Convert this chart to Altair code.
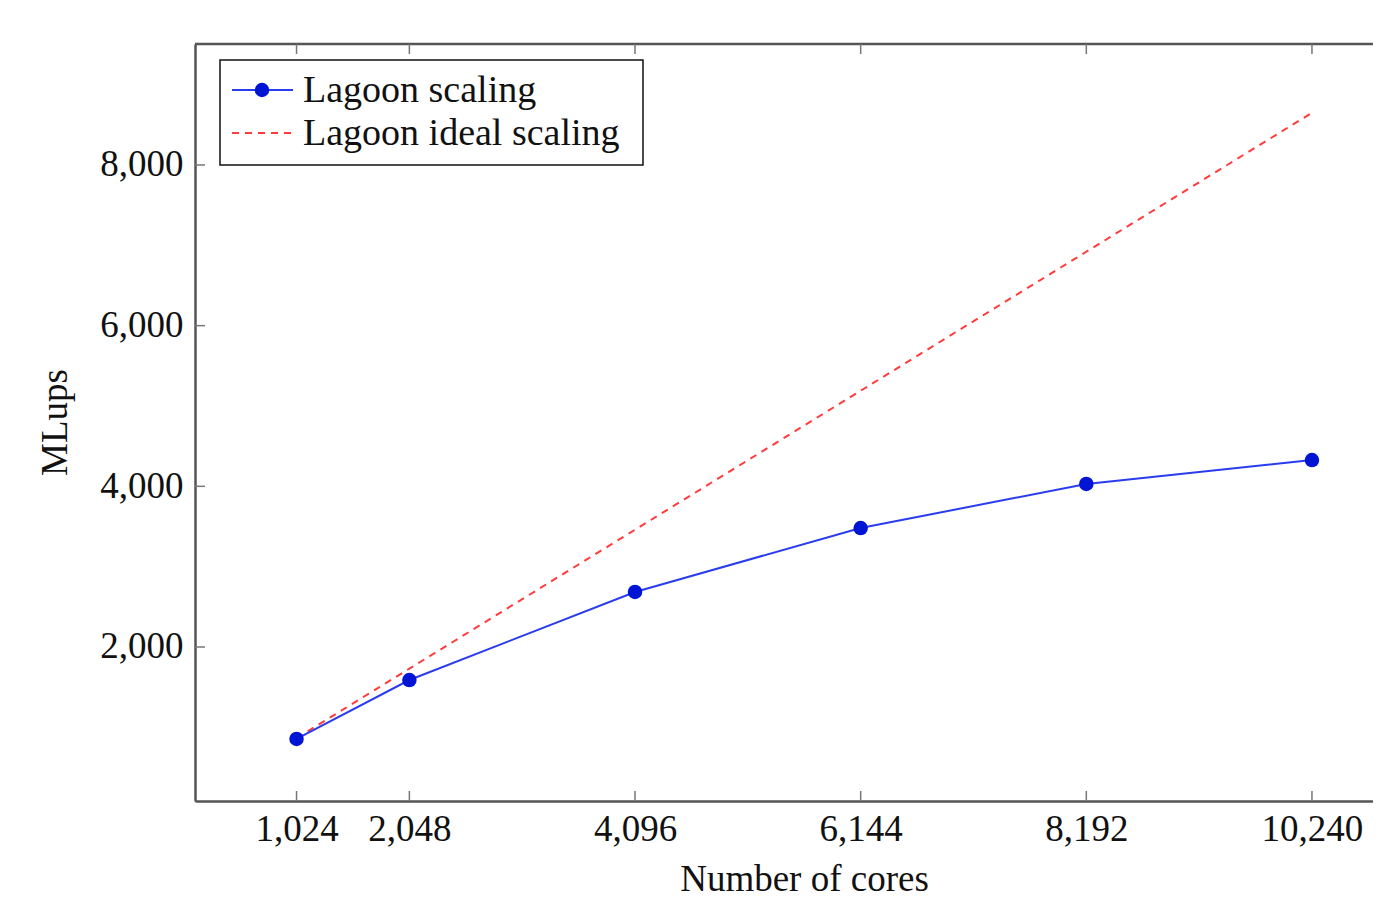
import altair as alt
import pandas as pd

cores = [1024, 2048, 4096, 6144, 8192, 10240]
mlups = [855, 1589, 2685, 3481, 4029, 4327]
ideal = [865, 1730, 3460, 5190, 6920, 8650]
series_names = ["Lagoon scaling", "Lagoon ideal scaling"]
x_ticks = [1024, 2048, 4096, 6144, 8192, 10240]
y_ticks = [2000, 4000, 6000, 8000]

FONT = "Liberation Serif"
FS = 37
W, H = 1178, 757
BLUE_LINE = "#2a3cf0"
BLUE_PT = "#0014d4"
RED = "#ff3b3b"
AX = "#555555"

df = pd.DataFrame({"cores": cores, "mlups": mlups, "ideal": ideal})
xt = pd.DataFrame({"t": x_ticks})
yt = pd.DataFrame({"t": y_ticks})
one = pd.DataFrame({"k": [0]})

xs = alt.Scale(domain=[102.4, 10794], nice=False, zero=False)
ys = alt.Scale(domain=[83, 9506], nice=False, zero=False)

base = alt.Chart(df)

ideal_line = base.mark_line(color=RED, strokeWidth=2, strokeDash=[7, 6]).encode(
    x=alt.X("cores:Q", scale=xs,
            axis=alt.Axis(values=x_ticks, labelExpr="format(datum.value, ',d')",
                          labelOverlap=False, ticks=False, grid=False,
                          domainColor=AX, domainWidth=2.5, labelFont=FONT,
                          labelFontSize=FS, labelColor="#111", labelPadding=10,
                          title="Number of cores", titleFont=FONT, titleFontSize=FS,
                          titleFontWeight="normal", titleColor="#111",
                          titleX=609, titleY=89, titleBaseline="alphabetic")),
    y=alt.Y("ideal:Q", scale=ys,
            axis=alt.Axis(values=y_ticks, labelExpr="format(datum.value, ',d')",
                          labelOverlap=False, ticks=False, grid=False,
                          domainColor=AX, domainWidth=2.5, labelFont=FONT,
                          labelFontSize=FS, labelColor="#111", labelPadding=12,
                          title="MLups", titleFont=FONT, titleFontSize=FS,
                          titleFontWeight="normal", titleColor="#111",
                          titleX=-129, titleY=378, titleBaseline="alphabetic")),
)

scal_line = base.mark_line(color=BLUE_LINE, strokeWidth=2).encode(
    x=alt.X("cores:Q", scale=xs), y=alt.Y("mlups:Q", scale=ys))
scal_pts = base.mark_point(filled=True, color=BLUE_PT, size=210, opacity=1).encode(
    x=alt.X("cores:Q", scale=xs), y=alt.Y("mlups:Q", scale=ys))

# top border
top_border = alt.Chart(one).mark_rule(color=AX, strokeWidth=2.5).encode(
    x=alt.value(0), x2=alt.value(W), y=alt.value(0))

# inward ticks
bx = alt.Chart(xt).mark_rule(color="#777", strokeWidth=1.5).encode(
    x=alt.X("t:Q", scale=xs), y=alt.value(H), y2=alt.value(H - 10))
tx = alt.Chart(xt).mark_rule(color="#777", strokeWidth=1.5).encode(
    x=alt.X("t:Q", scale=xs), y=alt.value(0), y2=alt.value(10))
ly = alt.Chart(yt).mark_rule(color="#777", strokeWidth=1.5).encode(
    y=alt.Y("t:Q", scale=ys), x=alt.value(0), x2=alt.value(10))

# legend
leg_box = alt.Chart(one).mark_rect(fill="white", stroke="#111", strokeWidth=1.5).encode(
    x=alt.value(25), x2=alt.value(448), y=alt.value(16), y2=alt.value(121))
leg_l1 = alt.Chart(one).mark_rule(color=BLUE_LINE, strokeWidth=2).encode(
    x=alt.value(37), x2=alt.value(98), y=alt.value(46))
leg_p1 = alt.Chart(one).mark_point(filled=True, color=BLUE_PT, size=210, opacity=1).encode(
    x=alt.value(67), y=alt.value(46))
leg_l2 = alt.Chart(one).mark_rule(color=RED, strokeWidth=2, strokeDash=[7, 6]).encode(
    x=alt.value(37), x2=alt.value(96), y=alt.value(89))
leg_txt = alt.Chart(pd.DataFrame({"name": series_names, "yy": [58, 101]})).mark_text(
    font=FONT, fontSize=38, align="left", baseline="alphabetic", color="#111").encode(
    x=alt.value(108), y=alt.Y("yy:Q", scale=None), text="name:N")

chart = alt.layer(
    ideal_line, scal_line, scal_pts, top_border, bx, tx, ly,
    leg_box, leg_l1, leg_p1, leg_l2, leg_txt
).properties(
    width=W, height=H,
    autosize=alt.AutoSizeParams(type="none"),
    padding={"left": 187, "top": 36, "right": 0, "bottom": 97},
).configure_view(stroke=None).configure(background="white")

chart.save("out.html", embed_options={"renderer": "svg", "actions": False})
